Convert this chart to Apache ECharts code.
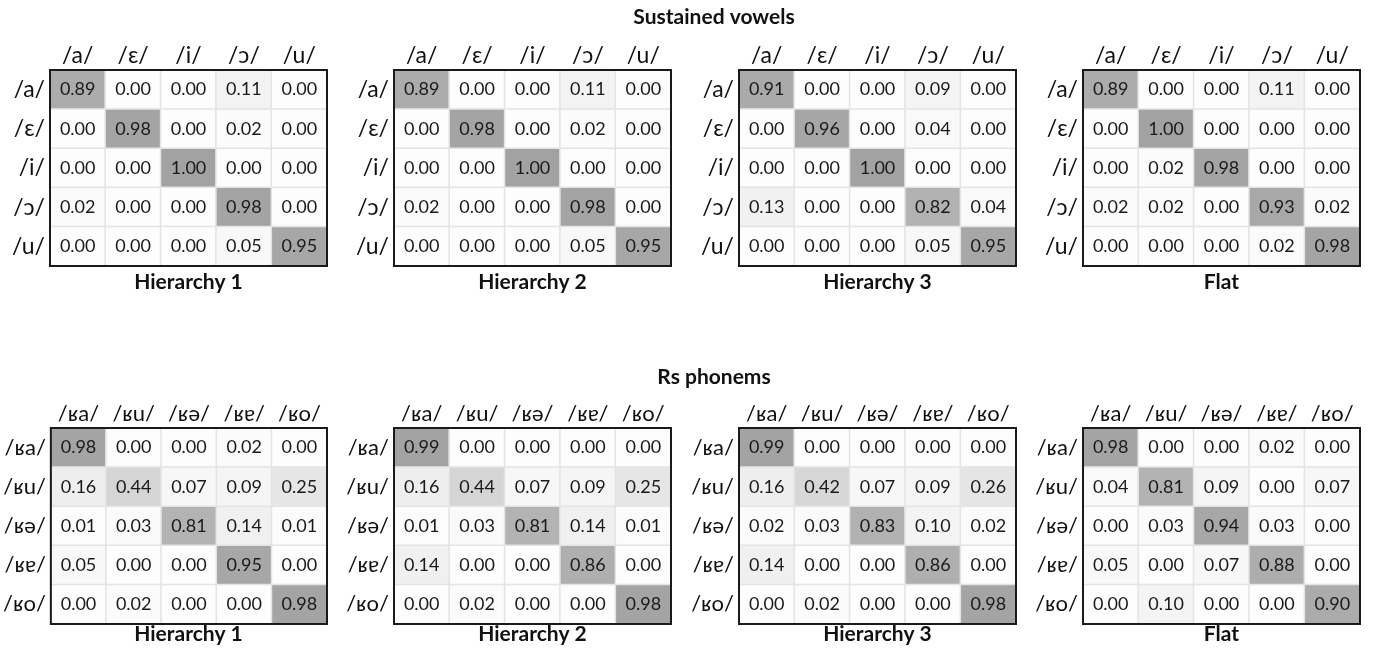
<!DOCTYPE html>
<html>
<head>
<meta charset="utf-8">
<script src="https://cdn.jsdelivr.net/npm/echarts@6/dist/echarts.min.js"></script>
<style>html,body{margin:0;padding:0;background:#fff;}#c{width:1374px;height:654px;}</style>
</head>
<body>
<div id="c"></div>
<script>
const vowelLabels = ['/a/', '/ɛ/', '/i/', '/ɔ/', '/u/'];
const rsLabels = ['/ʁa/', '/ʁu/', '/ʁə/', '/ʁɐ/', '/ʁo/'];
const panelTitles = ['Hierarchy 1', 'Hierarchy 2', 'Hierarchy 3', 'Flat'];
const sectionTitles = ['Sustained vowels', 'Rs phonems'];

// rows = actual, cols = predicted
const vowelH1 = [
  [0.89, 0.00, 0.00, 0.11, 0.00],
  [0.00, 0.98, 0.00, 0.02, 0.00],
  [0.00, 0.00, 1.00, 0.00, 0.00],
  [0.02, 0.00, 0.00, 0.98, 0.00],
  [0.00, 0.00, 0.00, 0.05, 0.95]
];
const vowelH2 = [
  [0.89, 0.00, 0.00, 0.11, 0.00],
  [0.00, 0.98, 0.00, 0.02, 0.00],
  [0.00, 0.00, 1.00, 0.00, 0.00],
  [0.02, 0.00, 0.00, 0.98, 0.00],
  [0.00, 0.00, 0.00, 0.05, 0.95]
];
const vowelH3 = [
  [0.91, 0.00, 0.00, 0.09, 0.00],
  [0.00, 0.96, 0.00, 0.04, 0.00],
  [0.00, 0.00, 1.00, 0.00, 0.00],
  [0.13, 0.00, 0.00, 0.82, 0.04],
  [0.00, 0.00, 0.00, 0.05, 0.95]
];
const vowelFlat = [
  [0.89, 0.00, 0.00, 0.11, 0.00],
  [0.00, 1.00, 0.00, 0.00, 0.00],
  [0.00, 0.02, 0.98, 0.00, 0.00],
  [0.02, 0.02, 0.00, 0.93, 0.02],
  [0.00, 0.00, 0.00, 0.02, 0.98]
];
const rsH1 = [
  [0.98, 0.00, 0.00, 0.02, 0.00],
  [0.16, 0.44, 0.07, 0.09, 0.25],
  [0.01, 0.03, 0.81, 0.14, 0.01],
  [0.05, 0.00, 0.00, 0.95, 0.00],
  [0.00, 0.02, 0.00, 0.00, 0.98]
];
const rsH2 = [
  [0.99, 0.00, 0.00, 0.00, 0.00],
  [0.16, 0.44, 0.07, 0.09, 0.25],
  [0.01, 0.03, 0.81, 0.14, 0.01],
  [0.14, 0.00, 0.00, 0.86, 0.00],
  [0.00, 0.02, 0.00, 0.00, 0.98]
];
const rsH3 = [
  [0.99, 0.00, 0.00, 0.00, 0.00],
  [0.16, 0.42, 0.07, 0.09, 0.26],
  [0.02, 0.03, 0.83, 0.10, 0.02],
  [0.14, 0.00, 0.00, 0.86, 0.00],
  [0.00, 0.02, 0.00, 0.00, 0.98]
];
const rsFlat = [
  [0.98, 0.00, 0.00, 0.02, 0.00],
  [0.04, 0.81, 0.09, 0.00, 0.07],
  [0.00, 0.03, 0.94, 0.03, 0.00],
  [0.05, 0.00, 0.07, 0.88, 0.00],
  [0.00, 0.10, 0.00, 0.00, 0.90]
];

const matrices = [vowelH1, vowelH2, vowelH3, vowelFlat, rsH1, rsH2, rsH3, rsFlat];

const FONT = "Lato, 'Noto Sans', 'DejaVu Sans', sans-serif";
const lefts = [50, 394, 739, 1083];
const tops = [70, 428];
const titleY = [282, 634];
const W = 277, H = 196;

const grids = [], xAxes = [], yAxes = [], series = [], graphics = [];
matrices.forEach((m, k) => {
  const row = Math.floor(k / 4), col = k % 4;
  const labels = row === 0 ? vowelLabels : rsLabels;
  const fs = row === 0 ? 23 : 22;
  grids.push({left: lefts[col], top: tops[row], width: W, height: H,
    show: true, borderColor: '#1a1a1a', borderWidth: 2, backgroundColor: 'transparent', z: 5});
  xAxes.push({type: 'category', gridIndex: k, data: labels, position: 'top',
    axisLine: {show: false}, axisTick: {show: false}, splitLine: {show: false},
    axisLabel: {interval: 0, hideOverlap: false, fontSize: fs, color: '#111', margin: 3, fontFamily: FONT}});
  yAxes.push({type: 'category', gridIndex: k, data: labels, inverse: true,
    axisLine: {show: false}, axisTick: {show: false}, splitLine: {show: false},
    axisLabel: {interval: 0, fontSize: fs, color: '#111', margin: 5, fontFamily: FONT}});
  const data = [];
  m.forEach((r, i) => r.forEach((v, j) => data.push([j, i, v])));
  series.push({type: 'heatmap', xAxisIndex: k, yAxisIndex: k, data: data,
    itemStyle: {borderColor: '#e4e4e4', borderWidth: 1.5},
    label: {show: true, fontSize: 18, color: '#1a1a1a', fontFamily: FONT,
      formatter: p => p.value[2].toFixed(2)},
    emphasis: {disabled: true}});
  graphics.push({type: 'text', x: lefts[col] + W / 2, y: titleY[row],
    style: {text: panelTitles[col], font: "bold 21px " + FONT, fill: '#111',
      textAlign: 'center', textVerticalAlign: 'middle'}});
});
graphics.push({type: 'text', x: 714, y: 17,
  style: {text: sectionTitles[0], font: "bold 21px " + FONT, fill: '#111', textAlign: 'center', textVerticalAlign: 'middle'}});
graphics.push({type: 'text', x: 714, y: 377,
  style: {text: sectionTitles[1], font: "bold 21px " + FONT, fill: '#111', textAlign: 'center', textVerticalAlign: 'middle'}});

const chart = echarts.init(document.getElementById('c'), null, {renderer: 'canvas'});
chart.setOption({
  backgroundColor: '#fff',
  animation: false,
  grid: grids,
  xAxis: xAxes,
  yAxis: yAxes,
  visualMap: {show: false, min: 0, max: 1, seriesIndex: series.map((s, i) => i),
    inRange: {color: ['#fdfdfd', '#a2a2a2']}},
  series: series,
  graphic: graphics
});
</script>
</body>
</html>
